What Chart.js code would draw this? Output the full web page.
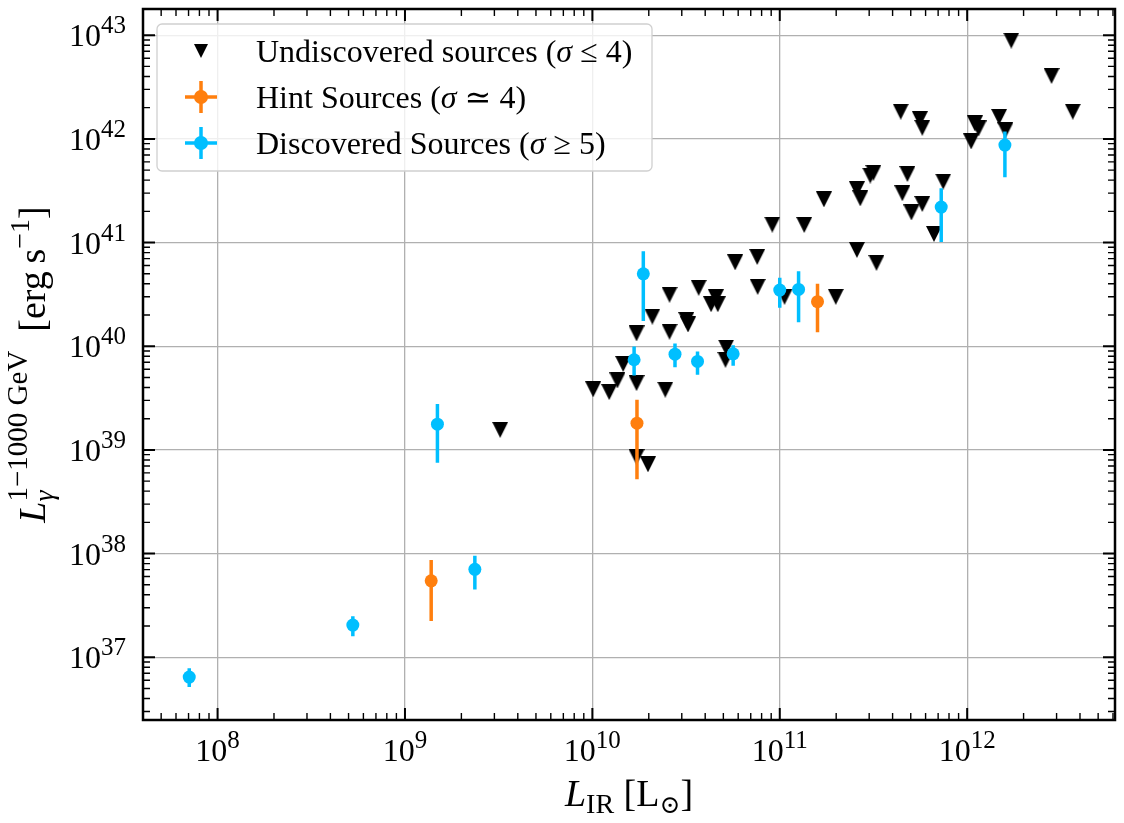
<!DOCTYPE html>
<html>
<head>
<meta charset="utf-8">
<title>L_gamma vs L_IR</title>
<script src="https://cdn.jsdelivr.net/npm/chart.js@4.4.1/dist/chart.umd.min.js"></script>
<style>
  html, body { margin: 0; padding: 0; background: #fff; }
  #wrap { width: 1124px; height: 823px; }
</style>
</head>
<body>
<div id="wrap"><canvas id="lumChart"></canvas></div>
<script>
// undiscovered sources (upper limits)
const undiscLIR = [3.22e9, 1.01e10, 1.23e10, 1.36e10, 1.46e10, 1.72e10, 1.72e10, 1.72e10, 1.98e10, 2.09e10,
    2.45e10, 2.58e10, 2.58e10, 3.17e10, 3.24e10, 3.69e10, 4.30e10, 4.56e10, 4.67e10, 5.17e10,
    5.13e10, 5.78e10, 7.58e10, 7.62e10, 9.12e10, 1.06e11, 1.35e11, 1.72e11, 1.99e11, 2.58e11,
    2.69e11, 2.58e11, 3.04e11, 3.16e11, 3.28e11, 4.42e11, 4.51e11, 4.80e11, 5.04e11, 5.59e11,
    5.76e11, 5.76e11, 6.65e11, 7.45e11, 1.05e12, 1.10e12, 1.15e12, 1.48e12, 1.60e12, 1.72e12,
    2.82e12, 3.66e12];
const undiscLgam = [1.56e39, 3.84e39, 3.61e39, 4.68e39, 6.75e39, 4.41e39, 1.33e40, 8.53e38, 7.26e38, 1.93e40,
    3.81e39, 3.14e40, 1.38e40, 1.79e40, 1.62e40, 3.66e40, 2.54e40, 2.97e40, 2.54e40, 9.71e39,
    7.40e39, 6.44e40, 7.27e40, 3.74e40, 1.49e41, 3.00e40, 1.48e41, 2.61e41, 3.00e40, 3.27e41,
    2.67e41, 8.49e40, 4.43e41, 4.71e41, 6.37e40, 1.83e42, 2.99e41, 4.59e41, 1.95e41, 1.55e42,
    1.28e42, 2.36e41, 1.21e41, 3.88e41, 9.46e41, 1.41e42, 1.26e42, 1.63e42, 1.21e42, 8.87e42,
    4.05e42, 1.83e42];

// hint sources
const hintLIR  = [1.38e9, 1.73e10, 1.59e11];
const hintLgam = [5.46e37, 1.81e39, 2.69e40];
const hintLo   = [2.23e37, 5.21e38, 1.36e40];
const hintHi   = [8.68e37, 3.05e39, 4.00e40];

// discovered sources
const discLIR  = [7.06e7, 5.27e8, 1.49e9, 2.36e9, 1.67e10, 1.87e10, 2.76e10, 3.64e10, 5.64e10, 1.00e11, 1.26e11, 7.27e11, 1.59e12];
const discLgam = [6.43e36, 2.04e37, 1.77e39, 7.05e37, 7.40e39, 4.99e40, 8.38e39, 7.13e39, 8.45e39, 3.48e40, 3.53e40, 2.20e41, 8.72e41];
const discLo   = [5.15e36, 1.59e37, 7.52e38, 4.50e37, 5.23e39, 1.75e40, 6.28e39, 5.31e39, 6.48e39, 2.35e40, 1.70e40, 1.01e41, 4.27e41];
const discHi   = [7.84e36, 2.48e37, 2.77e39, 9.55e37, 9.93e39, 8.25e40, 1.06e40, 8.89e39, 1.02e40, 4.57e40, 5.30e40, 3.34e41, 1.18e42];

const xTickExps = [8, 9, 10, 11, 12];
const yTickExps = [37, 38, 39, 40, 41, 42, 43];
const seriesNames = ['Undiscovered sources', 'Hint Sources', 'Discovered Sources'];

const DISC = '#00bfff', HINT = '#ff7f0e';
const SERIF = '"Liberation Serif", "DejaVu Serif", serif';

document.addEventListener("DOMContentLoaded", function () {

function pts(xs, ys) { return xs.map((x, i) => ({x: x, y: ys[i]})); }
function errPts(xs, lo, hi) {       // vertical segments split by gaps
    const out = [];
    xs.forEach((x, i) => { out.push({x: x, y: lo[i]}, {x: x, y: hi[i]}, {x: x, y: null}); });
    return out;
}

// downward triangle marker
function triCanvas(size) {
    const c = document.createElement('canvas');
    c.width = size; c.height = size;
    const g = c.getContext('2d');
    g.fillStyle = '#000';
    g.beginPath(); g.moveTo(0, 0); g.lineTo(size, 0); g.lineTo(size / 2, size); g.closePath(); g.fill();
    return c;
}
const triMarker = triCanvas(16);

// text with sub/superscripts
function font(p) { return (p.it ? 'italic ' : '') + p.s + 'px ' + SERIF; }
function partW(ctx, p) {
    if (p.stack) return Math.max.apply(null, p.stack.map(q => partW(ctx, q)));
    ctx.font = font(p); return ctx.measureText(p.t).width;
}
function richW(ctx, parts) { return parts.reduce((a, p) => a + partW(ctx, p), 0); }
function drawRich(ctx, parts, x, y) {
    ctx.textBaseline = 'alphabetic'; ctx.textAlign = 'left'; ctx.fillStyle = '#000';
    parts.forEach(p => {
        const list = p.stack || [p];
        list.forEach(q => { ctx.font = font(q); ctx.fillText(q.t, x, y + (q.dy || 0)); });
        x += partW(ctx, p);
    });
}
function powLabel(e) { return [{t: '10', s: 32}, {t: String(e), s: 25, dy: -13}]; }

function logVals(min, max) {
    const out = [];
    for (let e = Math.floor(Math.log10(min)); e <= Math.ceil(Math.log10(max)); e++) {
        for (let m = 1; m <= 9; m++) {
            const v = m * Math.pow(10, e);
            if (v >= min && v <= max) out.push({v: v, major: m === 1});
        }
    }
    return out;
}

const axesDeco = {
    id: 'axesDeco',
    afterDatasetsDraw(chart) {
        const ctx = chart.ctx, a = chart.chartArea;
        const xs = chart.scales.x, ys = chart.scales.y;
        ctx.save();
        ctx.strokeStyle = '#000';
        logVals(xs.min, xs.max).forEach(t => {
            const px = xs.getPixelForValue(t.v), len = t.major ? 12 : 7;
            ctx.lineWidth = t.major ? 2 : 1.4;
            ctx.beginPath();
            ctx.moveTo(px, a.bottom); ctx.lineTo(px, a.bottom - len);
            ctx.moveTo(px, a.top); ctx.lineTo(px, a.top + len);
            ctx.stroke();
        });
        logVals(ys.min, ys.max).forEach(t => {
            const py = ys.getPixelForValue(t.v), len = t.major ? 12 : 7;
            ctx.lineWidth = t.major ? 2 : 1.4;
            ctx.beginPath();
            ctx.moveTo(a.left, py); ctx.lineTo(a.left + len, py);
            ctx.moveTo(a.right, py); ctx.lineTo(a.right - len, py);
            ctx.stroke();
        });
        ctx.lineWidth = 2.5;
        ctx.strokeRect(a.left, a.top, a.right - a.left, a.bottom - a.top);

        // tick labels
        xTickExps.forEach(e => {
            const parts = powLabel(e), w = richW(ctx, parts);
            drawRich(ctx, parts, xs.getPixelForValue(Math.pow(10, e)) - w / 2, a.bottom + 41);
        });
        yTickExps.forEach(e => {
            const parts = powLabel(e), w = richW(ctx, parts);
            drawRich(ctx, parts, a.left - 17 - w, ys.getPixelForValue(Math.pow(10, e)) + 11);
        });

        // axis titles
        const xt = [{t: 'L', s: 38, it: true}, {t: 'IR', s: 28, dy: 7}, {t: ' [L', s: 38}, {t: '\u2299', s: 25, dy: 7}, {t: ']', s: 38}];
        drawRich(ctx, xt, (a.left + a.right) / 2 - richW(ctx, xt) / 2, a.bottom + 86);
        const yt = [{t: 'L', s: 38, it: true},
                    {stack: [{t: '1\u22121000 GeV', s: 29, dy: -18}, {t: '\u03b3', s: 28, it: true, dy: 8}]},
                    {t: '  [erg\u2009s', s: 38}, {t: '\u22121', s: 28, dy: -16}, {t: ']', s: 38}];
        ctx.translate(45, (a.top + a.bottom) / 2);
        ctx.rotate(-Math.PI / 2);
        drawRich(ctx, yt, -richW(ctx, yt) / 2, 0);
        ctx.restore();
    },
    afterDraw(chart) {       // legend box
        const ctx = chart.ctx, a = chart.chartArea;
        const bx = a.left + 14, by = a.top + 15, bw = 495, bh = 147, r = 5;
        ctx.save();
        ctx.beginPath();
        ctx.moveTo(bx + r, by); ctx.lineTo(bx + bw - r, by); ctx.arcTo(bx + bw, by, bx + bw, by + r, r);
        ctx.lineTo(bx + bw, by + bh - r); ctx.arcTo(bx + bw, by + bh, bx + bw - r, by + bh, r);
        ctx.lineTo(bx + r, by + bh); ctx.arcTo(bx, by + bh, bx, by + bh - r, r);
        ctx.lineTo(bx, by + r); ctx.arcTo(bx, by, bx + r, by, r); ctx.closePath();
        ctx.fillStyle = 'rgba(255,255,255,0.8)'; ctx.fill();
        ctx.strokeStyle = '#d0d0d0'; ctx.lineWidth = 1.3; ctx.stroke();

        const mx = bx + 44, tx = bx + 99;
        const rows = [by + 27, by + 73, by + 119];
        ctx.drawImage(triCanvas(14), mx - 7, rows[0] - 7);
        [[HINT, rows[1]], [DISC, rows[2]]].forEach(([c, y]) => {
            ctx.strokeStyle = c; ctx.fillStyle = c; ctx.lineWidth = 3.5;
            ctx.beginPath();
            ctx.moveTo(mx - 16, y); ctx.lineTo(mx + 16, y);
            ctx.moveTo(mx, y - 16); ctx.lineTo(mx, y + 16);
            ctx.stroke();
            ctx.beginPath(); ctx.arc(mx, y, 7, 0, Math.PI * 2); ctx.fill();
        });
        const sig = {t: '\u03c3', s: 32, it: true};
        const texts = [
            [{t: seriesNames[0] + ' (', s: 32}, sig, {t: ' \u2264 4)', s: 32}],
            [{t: seriesNames[1] + ' (', s: 32}, sig, {t: ' \u2243 4)', s: 32}],
            [{t: seriesNames[2] + ' (', s: 32}, sig, {t: ' \u2265 5)', s: 32}]
        ];
        texts.forEach((parts, i) => drawRich(ctx, parts, tx, rows[i] + 11));
        ctx.restore();
    }
};

function powTicks(exps) {
    return function (scale) { scale.ticks = exps.map(e => ({value: Math.pow(10, e)})); };
}

new Chart(document.getElementById('lumChart'), {
    type: 'scatter',
    data: {
        datasets: [
            {label: seriesNames[2], data: pts(discLIR, discLgam), order: 0,
             pointStyle: 'circle', pointRadius: 6.5, backgroundColor: DISC, borderWidth: 0},
            {label: seriesNames[2] + ' err', data: errPts(discLIR, discLo, discHi), order: 1,
             showLine: true, spanGaps: false, borderColor: DISC, borderWidth: 3.5, pointRadius: 0},
            {label: seriesNames[1], data: pts(hintLIR, hintLgam), order: 2,
             pointStyle: 'circle', pointRadius: 6.5, backgroundColor: HINT, borderWidth: 0},
            {label: seriesNames[1] + ' err', data: errPts(hintLIR, hintLo, hintHi), order: 3,
             showLine: true, spanGaps: false, borderColor: HINT, borderWidth: 3.5, pointRadius: 0},
            {label: seriesNames[0], data: pts(undiscLIR, undiscLgam), order: 4,
             pointStyle: triMarker, pointRadius: 8}
        ]
    },
    options: {
        responsive: true,
        maintainAspectRatio: false,
        animation: false,
        events: [],
        layout: {padding: {left: 0, right: 6, top: 6, bottom: 0}},
        plugins: {legend: {display: false}, tooltip: {enabled: false}},
        scales: {
            x: {
                type: 'logarithmic', min: 4.0e7, max: 6.15e12,
                afterBuildTicks: powTicks(xTickExps),
                afterFit: function (s) { s.height = 103; },
                ticks: {display: false},
                grid: {color: '#b0b0b0', lineWidth: 1.3, drawTicks: false},
                border: {display: false}
            },
            y: {
                type: 'logarithmic', min: 2.48e36, max: 1.79e43,
                afterBuildTicks: powTicks(yTickExps),
                afterFit: function (s) { s.width = 143; },
                ticks: {display: false},
                grid: {color: '#b0b0b0', lineWidth: 1.3, drawTicks: false},
                border: {display: false}
            }
        }
    },
    plugins: [axesDeco]
});

});
</script>
</body>
</html>
